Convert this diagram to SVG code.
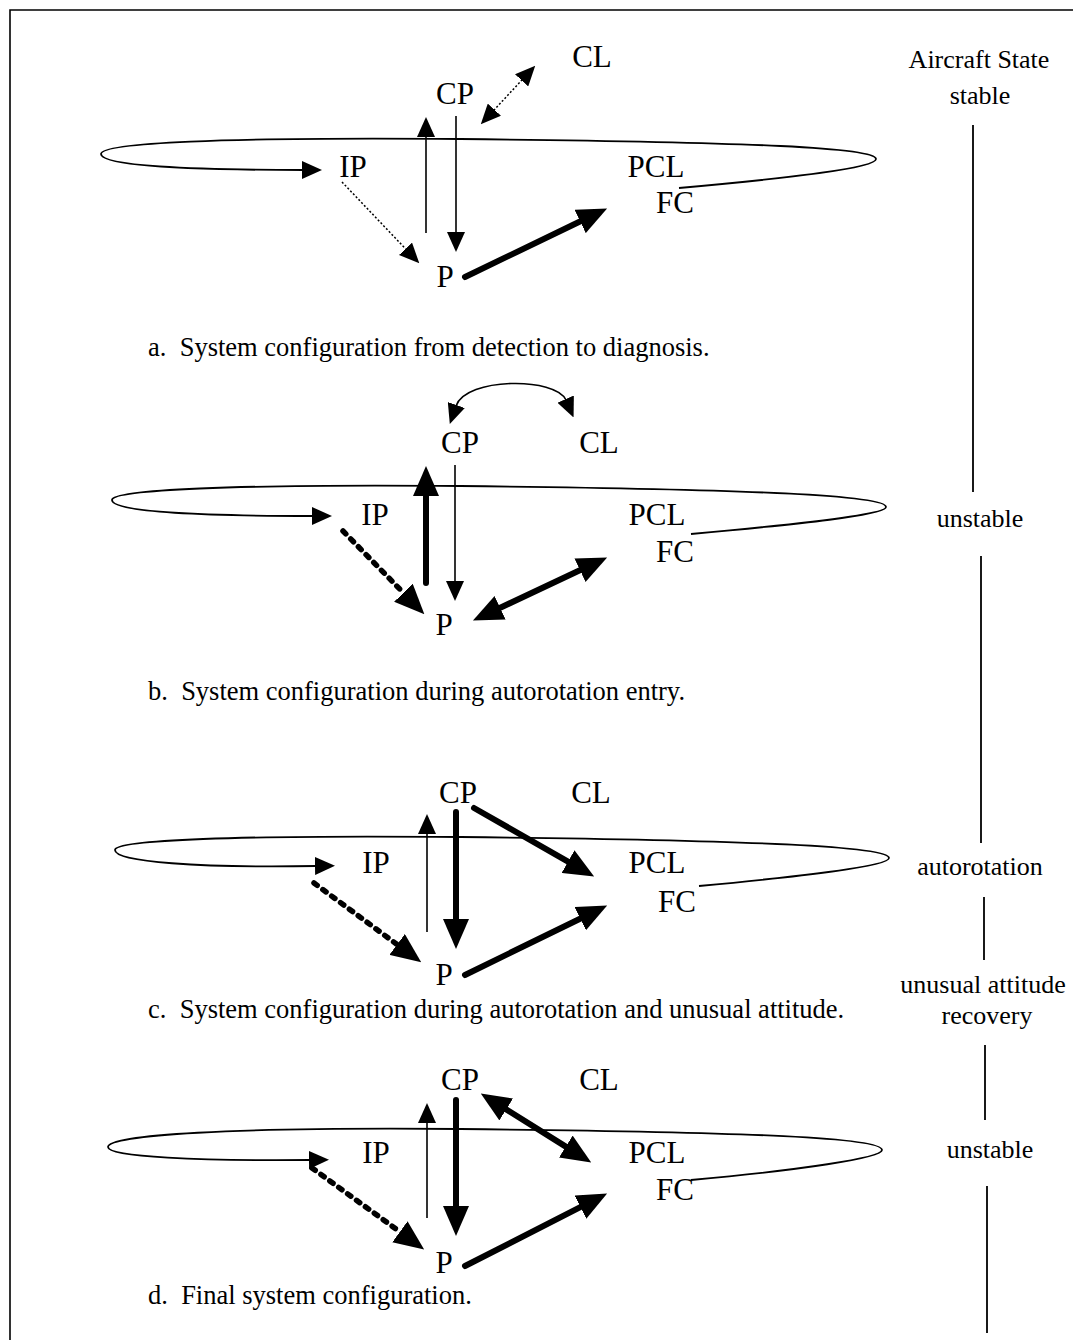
<svg xmlns="http://www.w3.org/2000/svg" width="1073" height="1340" viewBox="0 0 1073 1340">
<style>
text{font-family:"Liberation Serif","Times New Roman",serif;fill:#000}
.n{font-size:31px;text-anchor:middle}
.cap{font-size:26.5px}
.st{font-size:26px;text-anchor:middle}
.thin{fill:none;stroke:#000;stroke-width:1.6}
.dot{fill:none;stroke:#000;stroke-width:1.5;stroke-dasharray:2 2}
.thick{fill:none;stroke:#000;stroke-width:6;stroke-linecap:round}
.dash{fill:none;stroke:#000;stroke-width:5.5;stroke-linecap:round;stroke-dasharray:4 7}
.loop{fill:none;stroke:#000;stroke-width:1.8}
.rule{stroke:#000;stroke-width:1.8}
</style>
<defs>
<marker id="hs" viewBox="0 0 20 18" markerWidth="20" markerHeight="18" refX="1" refY="9" orient="auto-start-reverse" markerUnits="userSpaceOnUse"><path d="M0,0 L20,9 L0,18z" fill="#000"/></marker>
<marker id="hl" viewBox="0 0 30 26" markerWidth="30" markerHeight="26" refX="1" refY="13" orient="auto-start-reverse" markerUnits="userSpaceOnUse"><path d="M0,0 L30,13 L0,26z" fill="#000"/></marker>
</defs>
<rect width="1073" height="1340" fill="#fff"/>
<path d="M10,1340 V10 H1073" fill="none" stroke="#000" stroke-width="1.6"/>

<g id="connectors">
<!-- panel a -->
<path class="loop" d="M679,188 C790,178 876,168 876,159 C876,148 760,142 460,139 C220,137 101,143 101,154 C101,166 190,170 303,170" marker-end="url(#hs)"/>
<line class="thin" x1="426" y1="233" x2="426" y2="136" marker-end="url(#hs)"/>
<line class="thin" x1="456" y1="116" x2="456" y2="233" marker-end="url(#hs)"/>
<line class="dot" x1="493.7" y1="110.4" x2="522.3" y2="79.6" marker-start="url(#hs)" marker-end="url(#hs)"/>
<line class="dot" x1="342" y1="182" x2="406.2" y2="249.5" marker-end="url(#hs)"/>
<line class="thick" x1="465" y1="277" x2="581" y2="221" marker-end="url(#hl)"/>
<!-- panel b -->
<path class="loop" d="M691,534 C800,524 886,515 886,507 C886,496 760,489 460,486 C230,484 112,490 112,500 C112,512 200,516 313,516" marker-end="url(#hs)"/>
<path class="thin" d="M456,406 C466,377 556,377 566,400" marker-start="url(#hs)" marker-end="url(#hs)"/>
<line class="thick" x1="426" y1="583" x2="426" y2="495" marker-end="url(#hl)"/>
<line class="thin" x1="455" y1="465" x2="455" y2="582" marker-end="url(#hs)"/>
<line class="dash" x1="343" y1="531" x2="404.1" y2="593.5" marker-end="url(#hl)"/>
<line class="thick" x1="499.2" y1="608.2" x2="580.9" y2="569.8" marker-start="url(#hl)" marker-end="url(#hl)"/>
<!-- panel c -->
<path class="loop" d="M699,886 C805,876 889,866 889,858 C889,847 760,840 460,837 C235,835 115,840 115,850 C115,862 200,868 316,866" marker-end="url(#hs)"/>
<line class="thin" x1="427" y1="932" x2="427" y2="833" marker-end="url(#hs)"/>
<line class="thick" x1="456" y1="812" x2="456" y2="920" marker-end="url(#hl)"/>
<line class="thick" x1="474" y1="808" x2="568.9" y2="862.1" marker-end="url(#hl)"/>
<line class="dash" x1="314" y1="883" x2="397.9" y2="945.1" marker-end="url(#hl)"/>
<line class="thick" x1="465" y1="975" x2="581.1" y2="918.2" marker-end="url(#hl)"/>
<!-- panel d -->
<path class="loop" d="M691,1180 C800,1170 882,1158 882,1150 C882,1138 760,1132 460,1129 C230,1127 108,1135 108,1147 C108,1157 200,1161 310,1160" marker-end="url(#hs)"/>
<line class="thin" x1="427" y1="1218" x2="427" y2="1122" marker-end="url(#hs)"/>
<line class="thick" x1="456" y1="1100" x2="456" y2="1207" marker-end="url(#hl)"/>
<line class="thick" x1="505.4" y1="1108.9" x2="566.6" y2="1147.1" marker-start="url(#hl)" marker-end="url(#hl)"/>
<line class="dash" x1="312" y1="1168" x2="400.7" y2="1232.4" marker-end="url(#hl)"/>
<line class="thick" x1="465" y1="1266" x2="581.3" y2="1206.6" marker-end="url(#hl)"/>
</g>

<g id="panel-a">
<text class="n" x="592" y="67">CL</text>
<text class="n" x="455" y="104">CP</text>
<text class="n" x="353" y="177">IP</text>
<text class="n" x="656" y="177">PCL</text>
<text class="n" x="675" y="213">FC</text>
<text class="n" x="445" y="287">P</text>
<text class="cap" x="148" y="356" xml:space="preserve">a.  System configuration from detection to diagnosis.</text>
</g>
<g id="panel-b">
<text class="n" x="460" y="453">CP</text>
<text class="n" x="599" y="453">CL</text>
<text class="n" x="375" y="525">IP</text>
<text class="n" x="657" y="525">PCL</text>
<text class="n" x="675" y="562">FC</text>
<text class="n" x="444" y="635">P</text>
<text class="cap" x="148" y="700" xml:space="preserve">b.  System configuration during autorotation entry.</text>
</g>
<g id="panel-c">
<text class="n" x="458" y="803">CP</text>
<text class="n" x="591" y="803">CL</text>
<text class="n" x="376" y="873">IP</text>
<text class="n" x="657" y="873">PCL</text>
<text class="n" x="677" y="912">FC</text>
<text class="n" x="444" y="985">P</text>
<text class="cap" x="148" y="1018" xml:space="preserve">c.  System configuration during autorotation and unusual attitude.</text>
</g>
<g id="panel-d">
<text class="n" x="460" y="1090">CP</text>
<text class="n" x="599" y="1090">CL</text>
<text class="n" x="376" y="1163">IP</text>
<text class="n" x="657" y="1163">PCL</text>
<text class="n" x="675" y="1200">FC</text>
<text class="n" x="444" y="1273">P</text>
<text class="cap" x="148" y="1304" xml:space="preserve">d.  Final system configuration.</text>
</g>

<g id="aircraft-state">
<text class="st" x="979" y="68">Aircraft State</text>
<text class="st" x="980" y="104">stable</text>
<line class="rule" x1="973" y1="125" x2="973" y2="492"/>
<text class="st" x="980" y="527">unstable</text>
<line class="rule" x1="981" y1="556" x2="981" y2="843"/>
<text class="st" x="980" y="875">autorotation</text>
<line class="rule" x1="984" y1="897" x2="984" y2="960"/>
<text class="st" x="983" y="993">unusual attitude</text>
<text class="st" x="987" y="1024">recovery</text>
<line class="rule" x1="985" y1="1045" x2="985" y2="1120"/>
<text class="st" x="990" y="1158">unstable</text>
<line class="rule" x1="987" y1="1186" x2="987" y2="1333"/>
</g>
</svg>
